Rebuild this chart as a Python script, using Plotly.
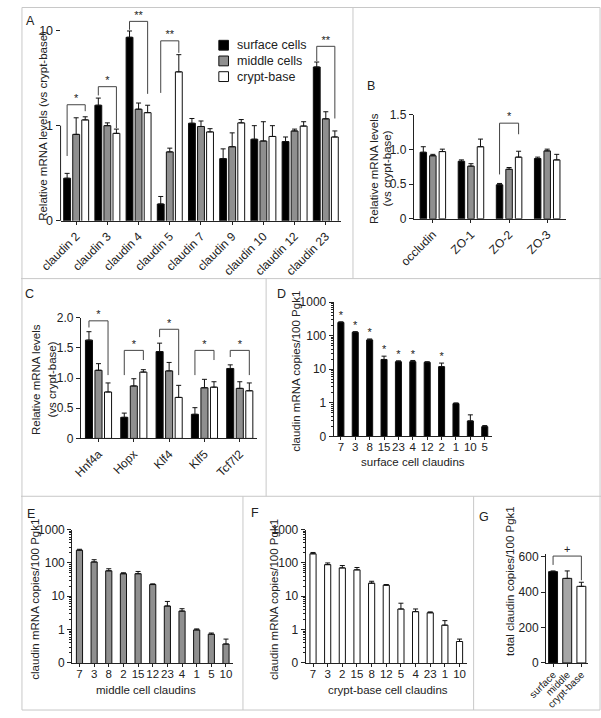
"""Claudin / tight-junction expression panels (A-G) rebuilt with plotly."""

import plotly.graph_objects as go

W, H = 601, 718

# ---- panel A: relative claudin mRNA (log) ----
claudins_a = ["claudin 2", "claudin 3", "claudin 4", "claudin 5", "claudin 7",
              "claudin 9", "claudin 10", "claudin 12", "claudin 23"]
surface_a = [0.28, 1.64, 8.5, 0.15, 1.06, 0.45, 0.72, 0.68, 4.14]
surface_a_sem = [0.035, 0.31, 1.4, 0.03, 0.13, 0.12, 0.28, 0.08, 0.53]
middle_a = [0.81, 1.0, 1.49, 0.53, 0.98, 0.60, 0.69, 0.88, 1.18]
middle_a_sem = [0.40, 0.07, 0.24, 0.05, 0.14, 0.24, 0.41, 0.04, 0.22]
crypt_a = [1.15, 0.83, 1.37, 3.68, 0.86, 1.07, 0.77, 0.99, 0.76]
crypt_a_sem = [0.09, 0.09, 0.27, 1.9, 0.07, 0.09, 0.23, 0.11, 0.12]
# brackets: (category index, level, left leg end, right leg end, label)
sig_a = [(0, 1.66, 0.48, 1.42, "*"), (1, 2.57, 2.08, 0.94, "*"),
         (2, 12.5, 10.2, 2.16, "**"), (3, 7.8, 2.21, 5.83, "**"),
         (8, 6.83, 4.78, 1.19, "**")]

# ---- panel B: other tight junction proteins ----
proteins_b = ["occludin", "ZO-1", "ZO-2", "ZO-3"]
surface_b = [0.96, 0.83, 0.49, 0.87]
surface_b_sem = [0.08, 0.02, 0.02, 0.02]
middle_b = [0.91, 0.76, 0.715, 0.98]
middle_b_sem = [0.02, 0.035, 0.025, 0.025]
crypt_b = [0.97, 1.04, 0.89, 0.85]
crypt_b_sem = [0.035, 0.11, 0.085, 0.08]
sig_b = [(2, 1.38, 0.64, 1.22, "*")]

# ---- panel C: transcription factors ----
genes_c = ["Hnf4a", "Hopx", "Klf4", "Klf5", "Tcf7l2"]
surface_c = [1.63, 0.35, 1.44, 0.40, 1.16]
surface_c_sem = [0.14, 0.07, 0.14, 0.11, 0.06]
middle_c = [1.13, 0.87, 1.12, 0.84, 0.83]
middle_c_sem = [0.11, 0.12, 0.14, 0.14, 0.11]
crypt_c = [0.77, 1.10, 0.68, 0.85, 0.79]
crypt_c_sem = [0.15, 0.04, 0.20, 0.09, 0.13]
sig_c = [(0, 1.95, 1.84, 1.05, "*"), (1, 1.46, 1.05, 1.30, "*"),
         (2, 1.81, 1.68, 1.05, "*"), (3, 1.46, 1.05, 1.30, "*"),
         (4, 1.46, 1.35, 1.05, "*")]

# ---- panels D-F: absolute claudin copies per cell population ----
claudins_d = ["7", "3", "8", "15", "23", "4", "12", "2", "1", "10", "5"]
copies_d = [248, 126, 75, 19.6, 16.8, 16.8, 16.1, 12.0, 0.95, 0.29, 0.196]
copies_d_sem = [12, 6, 5, 5, 1.1, 1.5, 0.7, 3.3, 0.05, 0.15, 0.015]
stars_d = ["*", "*", "*", "*", "*", "*", "", "*", "", "", ""]

claudins_e = ["7", "3", "8", "2", "15", "12", "23", "4", "1", "5", "10"]
copies_e = [241, 107, 58, 47.5, 47.5, 22.5, 5.1, 3.6, 0.98, 0.73, 0.37]
copies_e_sem = [16, 18, 9, 3.3, 8, 1.1, 1.9, 0.64, 0.07, 0.06, 0.15]

claudins_f = ["7", "3", "2", "15", "8", "12", "5", "4", "23", "1", "10"]
copies_f = [188, 89, 71, 62, 24.7, 21.5, 4.15, 3.46, 3.2, 1.36, 0.44]
copies_f_sem = [18, 11, 12.6, 11, 3.5, 1.0, 2.05, 0.7, 0.2, 0.5, 0.08]

# ---- panel G: total claudin copies ----
cells_g = ["surface", "middle", "crypt-base"]
total_g = [516, 478, 433]
total_g_sem = [4, 42, 23]
sig_g = [(0, 2, 604, 554, 467, "+")]

legend_names = ["surface cells", "middle cells", "crypt-base"]

BLACK, GREY, WHITE = "#000000", "#8f8f8f", "#ffffff"
INK = "#222222"
FONT = "Liberation Sans, Arial, sans-serif"


def px_x(p):
    return p / W


def px_y(p):
    return 1 - p / H


fig = go.Figure()


def add_bar(ax, x, y, sem, color, width, offset):
    n = len(y)
    fig.add_trace(go.Bar(
        x=x, y=y, width=width, offset=offset, showlegend=False,
        xaxis="x" + ax, yaxis="y" + ax,
        marker=dict(color=color, line=dict(color="#111111", width=1)),
        error_y=dict(type="data", symmetric=False, array=sem,
                     arrayminus=[0] * n, color="#111111", thickness=1, width=2.5),
    ))


def add_groups(ax, cats, series, width, pitch):
    idx = list(range(len(cats)))
    colors = [BLACK, GREY, WHITE]
    for k, (vals, sem) in enumerate(series):
        off = (k - 1) * pitch - width / 2
        add_bar(ax, idx, vals, sem, colors[k], width, off)


def add_bracket(ax, xl, xr, level, yl, yr, label):
    fig.add_trace(go.Scatter(
        x=[xl, xl, xr, xr], y=[yl, level, level, yr], mode="lines",
        line=dict(color="#444444", width=1), showlegend=False,
        xaxis="x" + ax, yaxis="y" + ax, hoverinfo="skip"))
    fig.add_trace(go.Scatter(
        x=[(xl + xr) / 2], y=[level], mode="text", text=[label],
        textposition="top center", textfont=dict(size=11, color=INK),
        cliponaxis=False, showlegend=False, xaxis="x" + ax, yaxis="y" + ax))


def group_brackets(ax, sigs, pitch):
    for i, level, yl, yr, label in sigs:
        add_bracket(ax, i - pitch, i + pitch, level, yl, yr, label)


# A
add_groups("", claudins_a, [(surface_a, surface_a_sem), (middle_a, middle_a_sem),
                            (crypt_a, crypt_a_sem)], 0.22, 0.29)
group_brackets("", sig_a, 0.29)
# B
add_groups("2", proteins_b, [(surface_b, surface_b_sem), (middle_b, middle_b_sem),
                             (crypt_b, crypt_b_sem)], 0.17, 0.25)
group_brackets("2", sig_b, 0.25)
# C
add_groups("3", genes_c, [(surface_c, surface_c_sem), (middle_c, middle_c_sem),
                          (crypt_c, crypt_c_sem)], 0.20, 0.27)
group_brackets("3", sig_c, 0.27)
# D, E, F
add_bar("4", list(range(len(claudins_d))), copies_d, copies_d_sem, BLACK, 0.42, -0.21)
fig.add_trace(go.Scatter(
    x=list(range(len(claudins_d))), y=[v + s for v, s in zip(copies_d, copies_d_sem)],
    mode="text", text=stars_d, textposition="top center",
    textfont=dict(size=11, color=INK), cliponaxis=False, showlegend=False,
    xaxis="x4", yaxis="y4"))
add_bar("5", list(range(len(claudins_e))), copies_e, copies_e_sem, GREY, 0.42, -0.21)
add_bar("6", list(range(len(claudins_f))), copies_f, copies_f_sem, WHITE, 0.42, -0.21)
# G
add_bar("7", list(range(len(cells_g))), total_g, total_g_sem,
        [BLACK, "#a6a6a6", WHITE], 0.63, -0.315)
for i, j, level, yl, yr, label in sig_g:
    add_bracket("7", i, j, level, yl, yr, label)

# ---- axes ----
tick_font = dict(family=FONT, size=12, color=INK)
base = dict(showline=True, linecolor=INK, linewidth=1, ticks="outside",
            ticklen=4, tickcolor=INK, showgrid=False, zeroline=False,
            tickfont=tick_font, fixedrange=True)


def xaxis(cats, x0, x1, anchor, angle=0, size=12, standoff=0):
    return dict(base, domain=[px_x(x0), px_x(x1)], range=[-0.5, len(cats) - 0.5],
                tickmode="array", tickvals=list(range(len(cats))), ticktext=cats,
                tickangle=angle, anchor=anchor, ticklen=3,
                ticklabelstandoff=standoff, tickfont=dict(tick_font, size=size))


log_minor = [m * 10 ** e for e in range(-1, 3) for m in range(2, 10)]

layout_axes = dict(
    xaxis=xaxis(claudins_a, 41, 332, "y", -45),
    yaxis=dict(base, type="log", domain=[px_y(218), px_y(9.5)], range=[-1, 1.15],
               tickvals=[0.1, 1, 10], ticktext=["0", "1", "10"], showline=False,
               anchor="x", tickfont=dict(tick_font, size=12.5)),
    xaxis2=xaxis(proteins_b, 407, 565, "y2", -45),
    yaxis2=dict(base, domain=[px_y(216), px_y(110)], range=[0, 1.5],
                tickvals=[0, 0.5, 1.0, 1.5], ticktext=["0", "0.5", "1.0", "1.5"],
                anchor="x2"),
    xaxis3=xaxis(genes_c, 62, 245, "y3", -45),
    yaxis3=dict(base, domain=[px_y(440), px_y(317)], range=[0, 2.0],
                tickvals=[0, 0.5, 1.0, 1.5, 2.0],
                ticktext=["0", "0.5", "1.0", "1.5", "2.0"], anchor="x3"),
    xaxis4=xaxis(claudins_d, 324, 488, "y4", 0, 11.5, -3),
    xaxis5=xaxis(claudins_e, 53, 220, "y5", 0, 11.5, -3),
    xaxis6=xaxis(claudins_f, 295, 462, "y6", 0, 11.5, -3),
    xaxis7=xaxis(cells_g, 544, 588, "y7", -45, 10, -2),
    yaxis7=dict(base, domain=[px_y(669), px_y(558)], range=[0, 615],
                tickvals=[0, 200, 400, 600], anchor="x7"),
)
for ax, x_ax, top, bot in [("4", "x4", 301, 438), ("5", "x5", 533, 669),
                           ("6", "x6", 533, 669)]:
    layout_axes["yaxis" + ax] = dict(
        base, type="log", domain=[px_y(bot), px_y(top)], range=[-1, 3],
        tickvals=[0.1, 1, 10, 100, 1000], ticktext=["0", "1", "10", "100", "1000"],
        anchor=x_ax,
        minor=dict(tickmode="array", tickvals=log_minor, ticks="outside",
                   ticklen=2, tickcolor=INK))

fig.update_layout(**layout_axes)

# ---- titles, panel letters, legend, frame ----
ann = []


def text(x, y, s, size=11.5, angle=0, xanchor="center"):
    ann.append(dict(x=px_x(x), y=px_y(y), xref="paper", yref="paper", text=s,
                    showarrow=False, textangle=angle, xanchor=xanchor,
                    yanchor="middle",
                    font=dict(family=FONT, size=size, color=INK)))


for letter, x, y in [("A", 10, 14), ("B", 363, 81), ("C", 9, 293), ("D", 270, 293),
                     ("E", 10, 517), ("F", 242, 516), ("G", 480, 520)]:
    text(x, y, letter, 12.5)

text(22, 121, "Relative mRNA levels (vs crypt-base)", 11.5, -90)
text(366, 165, "Relative mRNA levels", 11.5, -90)
text(379, 165, "(vs crypt-base)", 11.5, -90)
text(15, 380, "Relative mRNA levels", 11.5, -90)
text(32, 380, "(vs crypt-base)", 11.5, -90)
text(285, 372, "claudin mRNA copies/100 Pgk1", 11.5, -90)
text(406, 464, "surface cell claudins", 11.5)
text(15, 604, "claudin mRNA copies/100 Pgk1", 11.5, -90)
text(130, 697, "middle cell claudins", 11.5)
text(262, 604, "claudin mRNA copies/100 Pgk1", 11.5, -90)
text(380, 697, "crypt-base cell claudins", 11.5)
text(506, 585, "total claudin copies/100 Pgk1", 11.5, -90)

shapes = []
# legend for panel A, drawn as swatches + labels
for k, (name, color) in enumerate(zip(legend_names, [BLACK, GREY, WHITE])):
    yc = 39 + 16 * k
    shapes.append(dict(type="rect", xref="paper", yref="paper",
                       x0=px_x(205), x1=px_x(215), y0=px_y(yc + 5), y1=px_y(yc - 5),
                       fillcolor=color, line=dict(color="#111111", width=1)))
    text(222, yc, name, 12.5, xanchor="left")

frame = dict(type="line", xref="paper", yref="paper",
             line=dict(color="#c8c8c8", width=1))
shapes += [
    dict(type="rect", xref="paper", yref="paper", x0=px_x(1), x1=px_x(600),
         y0=px_y(717), y1=px_y(0.5), line=dict(color="#c8c8c8", width=1)),
    dict(frame, x0=0, x1=1, y0=px_y(277), y1=px_y(277)),
    dict(frame, x0=0, x1=1, y0=px_y(499), y1=px_y(499)),
    dict(frame, x0=px_x(344), x1=px_x(344), y0=px_y(0), y1=px_y(277)),
    dict(frame, x0=px_x(254), x1=px_x(254), y0=px_y(277), y1=px_y(499)),
    dict(frame, x0=px_x(230), x1=px_x(230), y0=px_y(499), y1=px_y(717)),
    dict(frame, x0=px_x(469), x1=px_x(469), y0=px_y(499), y1=px_y(717)),
    # y axis line of panel A stops at the 10 tick (range is taller for brackets)
    dict(type="line", xref="paper", yref="y", x0=px_x(41), x1=px_x(41),
         y0=-1, y1=1, line=dict(color=INK, width=1)),
]

fig.update_layout(
    width=W, height=H, margin=dict(l=0, r=0, t=0, b=0),
    paper_bgcolor="white", plot_bgcolor="white", showlegend=False,
    barmode="overlay", annotations=ann, shapes=shapes,
    font=dict(family=FONT, color=INK),
)

# the figure is exactly the window size, so drop the page's default body margin
fig.write_html("out.html", config={"displayModeBar": False},
               post_script="document.body.style.margin='0';"
                           "document.body.style.overflow='hidden';")
